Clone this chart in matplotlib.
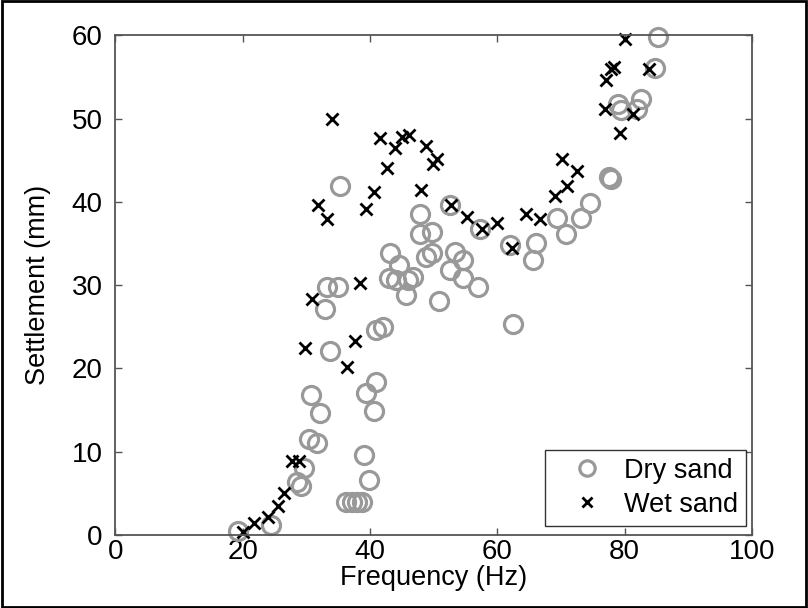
import matplotlib.pyplot as plt
from matplotlib.patches import Rectangle

plt.rcParams['font.family'] = ['Liberation Sans', 'DejaVu Sans']

# dry sand (circles)
dry_freq = [19.2, 24.4, 28.5, 29.2, 29.6, 30.5, 31.6, 30.8, 32.1, 33.0,
            33.7, 33.3, 34.9, 35.3, 36.3, 37.1, 37.9, 38.7, 39.0, 39.9,
            39.4, 41.0, 40.6, 40.9, 42.0, 43.2, 44.5, 43.0, 44.1, 46.0,
            46.8, 45.6, 47.8, 47.8, 49.8, 48.8, 49.7, 50.8, 52.5, 53.3,
            54.6, 52.5, 54.6, 57.0, 57.3, 62.0, 62.4, 65.6, 66.1, 69.3,
            70.8, 73.2, 74.6, 77.6, 77.8, 79.0, 79.5, 81.9, 82.5, 84.7,
            85.2]
dry_settle = [0.5, 1.2, 6.4, 5.9, 8.0, 11.5, 11.0, 16.8, 14.7, 27.1,
              22.1, 29.8, 29.8, 41.9, 4.0, 4.0, 4.0, 4.0, 9.6, 6.6,
              17.0, 18.4, 14.9, 24.6, 25.0, 33.8, 32.4, 30.8, 30.6, 30.6,
              31.0, 28.8, 38.6, 36.2, 36.4, 33.4, 33.8, 28.1, 39.6, 34.0,
              33.0, 31.8, 30.8, 29.8, 36.7, 34.8, 25.3, 33.0, 35.1, 38.1,
              36.1, 38.1, 39.9, 43.0, 42.8, 51.8, 51.0, 51.2, 52.4, 56.1,
              59.8]

# wet sand (crosses)
wet_freq = [20.0, 21.8, 24.0, 25.6, 26.5, 27.8, 28.8, 30.9, 29.8, 36.4,
            37.7, 38.4, 31.9, 33.3, 34.0, 39.3, 40.6, 41.6, 42.7, 43.9,
            45.1, 46.2, 48.0, 48.8, 50.5, 49.9, 52.8, 55.2, 57.6, 60.0,
            62.3, 64.5, 66.7, 69.1, 71.0, 70.2, 72.5, 76.9, 77.1, 77.9,
            78.3, 79.2, 81.3, 80.0, 83.8]
wet_settle = [0.4, 1.5, 2.2, 3.5, 5.1, 8.9, 8.9, 28.3, 22.5, 20.2,
              23.3, 30.2, 39.6, 38.0, 49.9, 39.1, 41.2, 47.7, 44.1, 46.5,
              47.8, 48.0, 41.4, 46.7, 45.2, 44.6, 39.6, 38.2, 36.8, 37.5,
              34.5, 38.6, 38.0, 40.7, 41.9, 45.1, 43.7, 51.1, 54.6, 56.0,
              56.2, 48.3, 50.6, 59.6, 55.9]

fig = plt.figure(figsize=(8.08, 6.08), dpi=100)
ax = fig.add_axes([0.1427, 0.120, 0.7880, 0.8220])

ax.plot(dry_freq, dry_settle, 'o', ms=13, mfc='none', mec='#999999', mew=2.3,
        label='Dry sand', clip_on=False)
ax.plot(wet_freq, wet_settle, 'x', ms=9, mec='black', mew=2.0,
        label='Wet sand', clip_on=False)

ax.set_xlim(0, 100)
ax.set_ylim(0, 60)
ax.set_xticks([0, 20, 40, 60, 80, 100])
ax.set_yticks([0, 10, 20, 30, 40, 50, 60])
ax.tick_params(direction='in', length=5, width=1, color='#555555',
               top=True, right=True, labelsize=20)
ax.tick_params(axis='x', pad=3)
ax.tick_params(axis='y', pad=9)
for s in ax.spines.values():
    s.set_color('#555555')
    s.set_linewidth(1.3)

ax.set_xlabel('Frequency (Hz)', fontsize=19.5, labelpad=0)
ax.set_ylabel('Settlement (mm)', fontsize=19.5, labelpad=15)

leg = ax.legend(loc='lower right', fontsize=19.5, frameon=True, fancybox=False,
                edgecolor='black', borderpad=0.3, borderaxespad=0,
                handlelength=2.5, handletextpad=0.1, labelspacing=0.3,
                bbox_to_anchor=(0.991, 0.018), markerscale=0.85)
leg.get_frame().set_linewidth(1.0)

# outer border of the figure
fig.patches.append(Rectangle((0.002, 0.002), 0.996, 0.996, transform=fig.transFigure,
                             fill=False, edgecolor='black', linewidth=2))

fig.savefig('out.png', dpi=100)
